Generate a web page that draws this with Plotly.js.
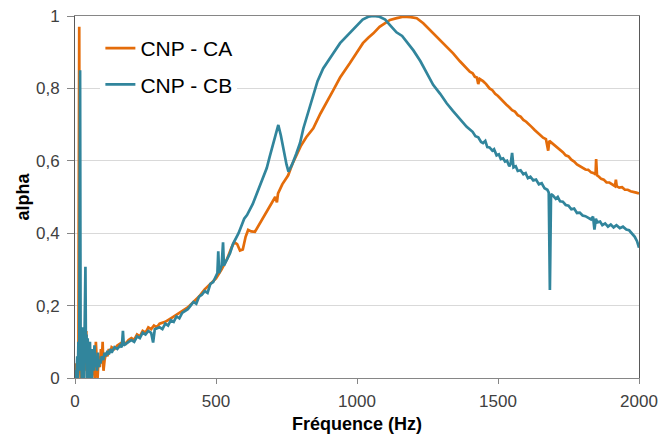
<!DOCTYPE html>
<html>
<head>
<meta charset="utf-8">
<script src="https://cdn.plot.ly/plotly-3.0.1.min.js"></script>
<style>html,body{margin:0;padding:0;background:#fff;}#chart{width:661px;height:434px;}</style>
</head>
<body>
<div id="chart"></div>
<script>
// Series names
const seriesNames = ["CNP - CA", "CNP - CB"];

// CNP - CA (orange): frequency (Hz) and alpha
const freqCA = [0,3,5,8,12,15,17,20,24,28,32,36,40,43,47,50,54,58,62,66,70,74,77,80,84,88,92,95,98,101,105,110,115,120,125,130,140,150,160,170,180,190,200,210,220,230,240,250,260,270,280,290,300,320,340,360,380,400,420,440,460,480,500,520,540,555,565,575,585,595,605,614,625,638,650,667,680,695,710,716,720,735,756,770,786,800,820,845,870,898,916,940,960,975,1000,1021,1040,1058,1080,1100,1117,1141,1164,1190,1212,1235,1259,1280,1300,1320,1341,1365,1390,1400,1410,1418,1425,1430,1435,1447,1458,1470,1480,1490,1500,1510,1520,1530,1540,1550,1560,1570,1580,1590,1600,1610,1620,1630,1640,1650,1660,1670,1678,1682,1690,1700,1710,1720,1730,1740,1750,1760,1770,1780,1790,1800,1810,1820,1830,1840,1846,1848,1851,1858,1866,1875,1885,1895,1905,1915,1918,1921,1930,1940,1950,1960,1970,1980,1990,2000];
const alphaCA = [0.03,0.04,0.0,0.03,0.02,0.97,0.05,0.0,0.06,0.0,0.08,0.02,0.13,0.0,0.1,0.03,0.08,0.0,0.06,0.02,0.0,0.10,0.02,0.0,0.06,0.03,0.08,0.04,0.10,0.02,0.05,0.07,0.06,0.08,0.07,0.085,0.08,0.09,0.095,0.1,0.095,0.105,0.11,0.105,0.12,0.115,0.13,0.125,0.14,0.135,0.145,0.14,0.15,0.155,0.165,0.175,0.185,0.195,0.21,0.225,0.245,0.26,0.275,0.3,0.33,0.36,0.375,0.37,0.352,0.355,0.39,0.409,0.405,0.404,0.42,0.446,0.46,0.48,0.5,0.485,0.51,0.535,0.56,0.59,0.616,0.64,0.665,0.69,0.73,0.768,0.795,0.83,0.855,0.87,0.9,0.925,0.94,0.952,0.97,0.98,0.989,0.994,0.998,0.997,0.994,0.98,0.961,0.945,0.93,0.915,0.897,0.875,0.855,0.846,0.842,0.832,0.83,0.812,0.826,0.82,0.812,0.8,0.795,0.785,0.779,0.77,0.764,0.755,0.748,0.74,0.736,0.726,0.722,0.713,0.708,0.699,0.693,0.685,0.678,0.67,0.664,0.66,0.628,0.655,0.65,0.643,0.638,0.63,0.624,0.615,0.612,0.603,0.598,0.59,0.586,0.582,0.576,0.575,0.568,0.566,0.562,0.605,0.56,0.556,0.55,0.548,0.54,0.54,0.534,0.53,0.548,0.53,0.526,0.527,0.52,0.52,0.516,0.515,0.512,0.51];

// CNP - CB (teal): frequency (Hz) and alpha
const freqCB = [0,3,5,8,10,12,15,18,20,22,24,26,28,30,32,35,37,39,41,43,45,47,49,51,53,55,58,60,63,66,69,72,75,78,81,84,87,90,95,100,105,110,115,120,125,130,140,150,160,166,170,173,180,190,200,210,220,230,240,250,260,270,277,283,300,310,320,330,340,350,360,370,380,390,400,410,420,430,440,450,460,470,480,490,500,505,508,511,520,525,528,540,550,560,570,580,590,600,610,620,630,640,650,660,668,680,690,703,712,721,730,740,750,757,770,785,798,810,825,839,860,880,900,916,940,960,975,1000,1020,1040,1058,1080,1100,1117,1140,1160,1176,1200,1225,1247,1270,1295,1318,1340,1365,1389,1410,1420,1430,1440,1447,1455,1462,1470,1480,1486,1495,1503,1510,1518,1525,1532,1540,1545,1550,1555,1563,1570,1580,1590,1598,1606,1615,1625,1635,1645,1655,1665,1675,1680,1684,1688,1695,1705,1712,1720,1730,1740,1750,1760,1770,1780,1790,1800,1810,1820,1830,1837,1842,1847,1852,1862,1870,1880,1890,1900,1910,1920,1932,1943,1955,1965,1975,1985,1993,2000];
const alphaCB = [0.0,0.02,0.0,0.06,0.0,0.1,0.02,0.85,0.03,0.12,0.0,0.14,0.02,0.1,0.0,0.13,0.307,0.05,0.12,0.0,0.11,0.02,0.09,0.0,0.1,0.03,0.07,0.0,0.08,0.02,0.09,0.03,0.06,0.02,0.07,0.03,0.05,0.04,0.06,0.05,0.07,0.06,0.075,0.065,0.08,0.07,0.085,0.08,0.09,0.085,0.13,0.09,0.095,0.1,0.105,0.1,0.115,0.11,0.125,0.12,0.13,0.125,0.098,0.135,0.14,0.135,0.15,0.145,0.16,0.155,0.17,0.165,0.18,0.185,0.19,0.2,0.21,0.205,0.225,0.23,0.24,0.235,0.26,0.265,0.28,0.29,0.35,0.29,0.31,0.375,0.31,0.33,0.345,0.37,0.385,0.4,0.42,0.44,0.45,0.464,0.48,0.5,0.52,0.54,0.555,0.58,0.61,0.649,0.68,0.699,0.67,0.625,0.59,0.57,0.59,0.62,0.649,0.69,0.73,0.768,0.82,0.855,0.88,0.897,0.925,0.942,0.952,0.975,0.99,0.998,1.0,0.998,0.99,0.975,0.955,0.945,0.93,0.905,0.875,0.842,0.81,0.785,0.759,0.738,0.715,0.694,0.68,0.668,0.665,0.652,0.649,0.655,0.638,0.637,0.628,0.632,0.615,0.618,0.605,0.607,0.598,0.6,0.585,0.592,0.622,0.582,0.585,0.572,0.574,0.563,0.566,0.552,0.556,0.546,0.548,0.535,0.538,0.524,0.52,0.512,0.243,0.508,0.504,0.495,0.5,0.488,0.487,0.478,0.476,0.466,0.468,0.456,0.457,0.449,0.447,0.442,0.438,0.446,0.41,0.44,0.43,0.432,0.422,0.427,0.418,0.424,0.416,0.422,0.414,0.418,0.41,0.408,0.4,0.39,0.378,0.36];

const colorCA = "#E46C0A";
const colorCB = "#31859C";

// Tick values
const xTicks = [0, 500, 1000, 1500, 2000];
const yTicks = [0, 0.2, 0.4, 0.6, 0.8, 1];

const fontFam = "'Liberation Sans', Arial, sans-serif";

const traces = [
  {x: freqCA, y: alphaCA, type: "scatter", mode: "lines", name: seriesNames[0],
   legendgroup: "a", line: {color: colorCA, width: 2.7}},
  {x: freqCB, y: alphaCB, type: "scatter", mode: "lines", name: seriesNames[1],
   legendgroup: "b", line: {color: colorCB, width: 2.7}}
];

const layout = {
  width: 661, height: 434,
  margin: {l: 75, r: 22, t: 16, b: 56},
  paper_bgcolor: "#fff", plot_bgcolor: "#fff",
  separators: ", ",
  font: {family: fontFam, size: 17, color: "#404040"},
  showlegend: true,
  legend: {
    x: 0.045, y: 0.967, xanchor: "left", yanchor: "top",
    bgcolor: "#fff", borderwidth: 0,
    font: {family: fontFam, size: 21, color: "#000"},
    tracegroupgap: 6
  },
  xaxis: {
    range: [0, 2000], tickvals: xTicks, ticks: "outside", ticklen: 5, tickcolor: "#868686",
    showline: true, linecolor: "#868686", linewidth: 1, mirror: true,
    showgrid: false, zeroline: false, ticklabelstandoff: 3,
    tickfont: {family: fontFam, size: 17, color: "#404040"},
    title: {text: "<b>Fréquence (Hz)</b>", font: {family: fontFam, size: 18, color: "#000"}, standoff: 6}
  },
  yaxis: {
    range: [0, 1], tickvals: yTicks, ticks: "outside", ticklen: 7, tickcolor: "#868686",
    showline: true, linecolor: "#595959", linewidth: 1, mirror: true,
    showgrid: true, gridcolor: "#D9D9D9", gridwidth: 1, zeroline: false, ticklabelstandoff: 4,
    tickfont: {family: fontFam, size: 17, color: "#404040"},
    title: {text: "<b>alpha</b>", font: {family: fontFam, size: 18, color: "#000"}, standoff: 1}
  }
};

Plotly.newPlot("chart", traces, layout, {staticPlot: true, displayModeBar: false});
</script>
</body>
</html>
